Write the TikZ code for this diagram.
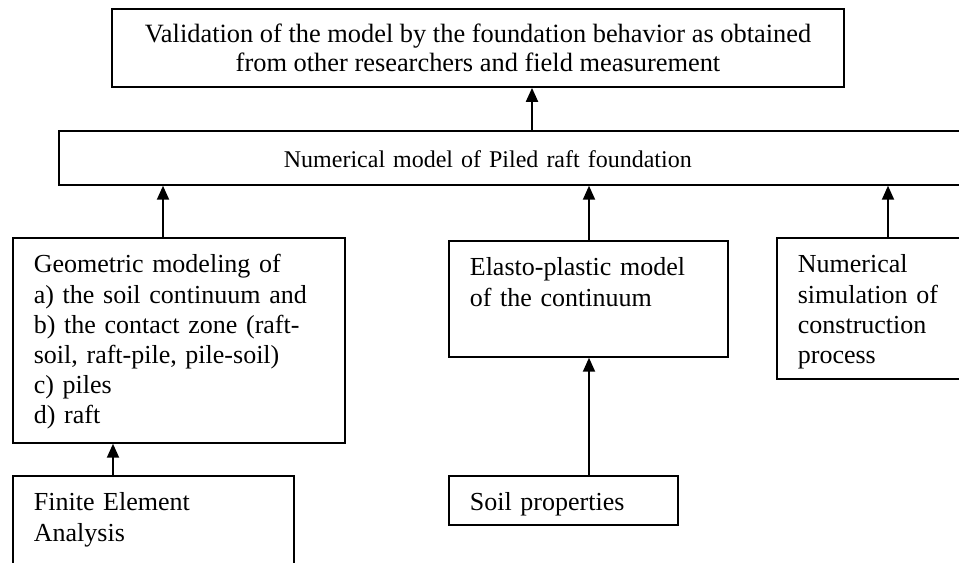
\documentclass[tikz,border=0pt]{standalone}
\usepackage{fontspec}
\setmainfont{Liberation Serif}
\usetikzlibrary{arrows.meta}

\newcommand{\blockfont}{\fontsize{19.5pt}{22.6pt}\selectfont}

\tikzset{
    blockbox/.style = {draw, line width = 1.3pt, anchor = north west, align = left,
        inner xsep = 15.75pt, inner ysep = 0pt, text height = 26.25pt, font = \blockfont},
    uparrow/.style = {-{Triangle[length = 10.5pt, width = 9pt]}, line width = 1.5pt}
}

\begin{document}
\begin{tikzpicture}[x = 0.75pt, y = -0.75pt]
        \useasboundingbox (0, 0) rectangle (959, 563);
        \clip (0, 0) rectangle (959, 563);

        \node[draw, line width = 1.3pt, align = center, inner sep = 0pt, font = \fontsize{19.8pt}{22pt}\selectfont,
            minimum width = 549pt, minimum height = 58.5pt] (valid) at (478, 48)
            {Validation of the model by the foundation behavior as obtained\\
             from other researchers and field measurement};

        \node[blockbox, inner xsep = 168.75pt, text width = 406.5pt, text height = 27.75pt,
            text depth = 12.75pt, font = \fontsize{18pt}{21pt}\selectfont] (model) at (58, 130)
            {Numerical model of Piled raft foundation};

        \node[blockbox, text width = 217.5pt, text depth = 127.5pt] (geo) at (12, 237)
            {Geometric modeling of\\
             a) the soil continuum and\\
             b) the contact zone (raft-\\
             soil, raft-pile, pile-soil)\\
             c) piles\\
             d) raft};
        \node[blockbox, text width = 179.25pt, text depth = 150pt] (fea) at (12, 475)
            {Finite Element\\ Analysis};

        \node[blockbox, text width = 177.75pt, text depth = 60.75pt] (elasto) at (448, 240)
            {Elasto-plastic model\\ of the continuum};
        \node[blockbox, text width = 140.25pt, text depth = 10.5pt] (soil) at (448, 475)
            {Soil properties};

        \node[blockbox, text width = 174pt, text depth = 79.5pt] (sim) at (776, 237)
            {Numerical\\ simulation of\\ construction\\ process};

        \begin{scope}[uparrow]
            \draw (model.north -| 532, 0) -- (valid.south -| 532, 0);
            \draw (geo.north -| 163, 0) -- (model.south -| 163, 0);
            \draw (elasto.north -| 589, 0) -- (model.south -| 589, 0);
            \draw (sim.north -| 888, 0) -- (model.south -| 888, 0);
            \draw (fea.north -| 113, 0) -- (geo.south -| 113, 0);
            \draw (soil.north -| 589, 0) -- (elasto.south -| 589, 0);
        \end{scope}
    \end{tikzpicture}
\end{document}
